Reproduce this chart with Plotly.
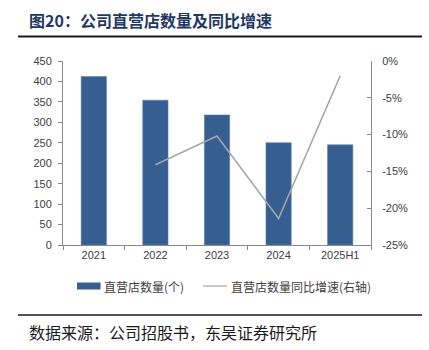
import plotly.graph_objects as go

# Store counts and year-on-year growth
years = ["2021", "2022", "2023", "2024", "2025H1"]
store_counts = [412, 354, 318, 250, 245]
yoy_growth = [None, -0.141, -0.102, -0.214, -0.020]

left_ticks = [0, 50, 100, 150, 200, 250, 300, 350, 400, 450]
right_ticks = [0, -0.05, -0.10, -0.15, -0.20, -0.25]
right_labels = ["0%", "-5%", "-10%", "-15%", "-20%", "-25%"]

BAR_COLOR = "#365F91"
LINE_COLOR = "#A6A6A6"
AXIS_COLOR = "#888888"
TEXT_COLOR = "#404040"
TICK_FONT = dict(family="Liberation Sans, Arial, sans-serif", size=11, color=TEXT_COLOR)
CJK = "Noto Sans CJK SC, sans-serif"

W, H = 429, 350
L, R, T, B = 63, 371, 61, 245

fig = go.Figure()
fig.add_trace(go.Bar(
    x=years, y=store_counts, name="直营店数量(个)",
    marker=dict(color=BAR_COLOR, line=dict(color="#5B7FAF", width=0.6)),
    yaxis="y",
))
fig.add_trace(go.Scatter(
    x=years, y=yoy_growth, name="直营店数量同比增速(右轴)",
    mode="lines", line=dict(color=LINE_COLOR, width=1.6),
    yaxis="y2", connectgaps=False,
))

fig.update_layout(
    width=W, height=H,
    margin=dict(l=L, r=W - R, t=T, b=H - B, pad=0),
    paper_bgcolor="white", plot_bgcolor="white",
    showlegend=False,
    bargap=0.59,
    xaxis=dict(
        type="category", showgrid=False, showline=True, linecolor=AXIS_COLOR, linewidth=1,
        ticks="outside", tickson="boundaries", ticklen=4, tickcolor=AXIS_COLOR,
        tickfont=TICK_FONT, fixedrange=True,
    ),
    yaxis=dict(
        range=[0, 450], tickvals=left_ticks, showgrid=False, zeroline=False,
        showline=True, linecolor=AXIS_COLOR, linewidth=1,
        ticks="outside", ticklen=4, tickcolor=AXIS_COLOR, tickfont=TICK_FONT,
        ticklabelstandoff=4,
    ),
    yaxis2=dict(
        range=[-0.25, 0], tickvals=right_ticks, ticktext=right_labels,
        overlaying="y", side="right", showgrid=False, zeroline=False,
        showline=True, linecolor=AXIS_COLOR, linewidth=1,
        ticks="inside", ticklen=4, tickcolor=AXIS_COLOR, tickfont=TICK_FONT,
        ticklabelstandoff=8,
    ),
)


# pixel position -> paper coordinates of the plot area
def fx(x):
    return (x - L) / (R - L)


def fy(y):
    return (B - y) / (B - T)


shapes = [
    # rule under the title
    dict(type="line", xref="paper", yref="paper",
         x0=fx(18), x1=fx(422), y0=fy(36.5), y1=fy(36.5),
         line=dict(color="#1a1a1a", width=2)),
    # rule above the source note
    dict(type="line", xref="paper", yref="paper",
         x0=fx(18), x1=fx(422), y0=fy(315), y1=fy(315),
         line=dict(color="#1a1a1a", width=1.5)),
    # legend keys
    dict(type="rect", xref="paper", yref="paper",
         x0=fx(77), x1=fx(100.5), y0=fy(289.5), y1=fy(282.5),
         fillcolor=BAR_COLOR, line=dict(width=0)),
    dict(type="line", xref="paper", yref="paper",
         x0=fx(203), x1=fx(227), y0=fy(286), y1=fy(286),
         line=dict(color=LINE_COLOR, width=1.2)),
]

annotations = [
    dict(text="<b>图20：公司直营店数量及同比增速</b>", xref="paper", yref="paper",
         x=fx(27), y=fy(20), xanchor="left", yanchor="middle", showarrow=False,
         font=dict(family=CJK, size=16, color="#1F3864")),
    dict(text="直营店数量(个)", xref="paper", yref="paper",
         x=fx(102), y=fy(286), xanchor="left", yanchor="middle", showarrow=False,
         font=dict(family=CJK, size=12, color=TEXT_COLOR)),
    dict(text="直营店数量同比增速(右轴)", xref="paper", yref="paper",
         x=fx(229), y=fy(286), xanchor="left", yanchor="middle", showarrow=False,
         font=dict(family=CJK, size=12, color=TEXT_COLOR)),
    dict(text="数据来源：公司招股书，东吴证券研究所", xref="paper", yref="paper",
         x=fx(27), y=fy(332), xanchor="left", yanchor="middle", showarrow=False,
         font=dict(family=CJK, size=16, color="#1a1a1a")),
]

fig.update_layout(shapes=shapes, annotations=annotations)
fig.write_html("out.html", config={"displayModeBar": False})
